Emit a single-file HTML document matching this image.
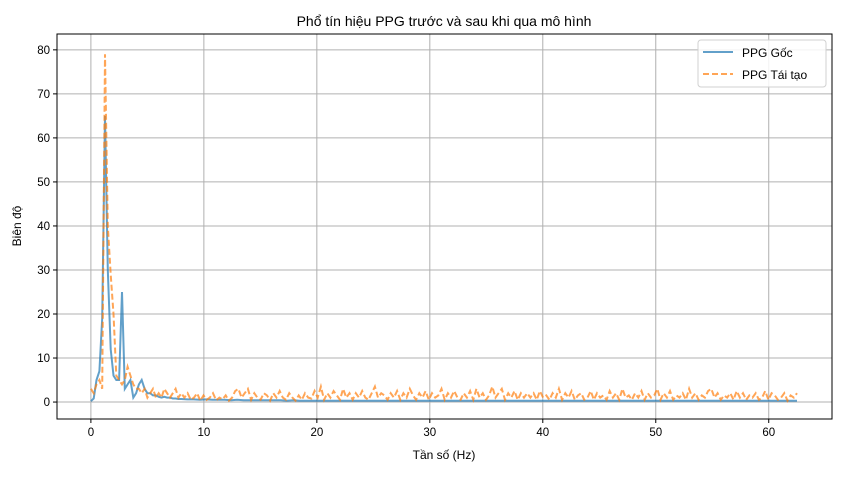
<!DOCTYPE html>
<html><head><meta charset="utf-8"><style>
body{margin:0;background:#fff;}
svg text{font-family:"Liberation Sans","DejaVu Sans",sans-serif;fill:#000;}
</style></head><body>
<svg id="c" width="841" height="472" xmlns="http://www.w3.org/2000/svg"></svg>
<script>
const lowStep = 0.25;
const lowCount = 33;
const lastFreq = 62.5;
const goc = [0.2,0.8,5,7,19,65,30,12,6,5,5,25,3,4,5,1,2,4,5,3,2,2,1.5,1.5,1.2,1.0,1.2,1.0,1.0,0.8,0.8,0.7,0.7,
0.6,0.6,0.5,0.6,0.5,0.5,0.5,0.4,0.5,0.4,0.4,0.4,0.4,0.4,0.4,0.4,0.3,0.4,0.3,0.3,0.3,0.3,0.3,0.3,0.3,0.3,0.3,0.3,0.3,0.3,0.3,0.3,0.3,0.3,0.3,0.3,0.3,0.3,0.3,0.3,0.3,0.3,0.3,0.3,0.3,0.3,0.3,0.3,0.3,0.3,0.3,0.3,0.3,0.3,0.3,0.3,0.3,0.3,0.3,0.3,0.3,0.3,0.3,0.3,0.3,0.3,0.3,0.3,0.3,0.3,0.3,0.3,0.3,0.3,0.3,0.3,0.3,0.3,0.3,0.3,0.3,0.3,0.3,0.3,0.3,0.3,0.3,0.3,0.3,0.3,0.3,0.3,0.3,0.3,0.3,0.3,0.3,0.3,0.3];
const taiTao = [3,2,4,5,3,79,40,29,20,6,5,4,5,8,6,4,3,3,2,3,1,2,3,1,2,1,3,2,1,2,3,1,2,
1,2,0.5,1,2,0.3,1.5,0.5,1,2,0.4,1,0.6,1.5,0.3,1,2.5,3,1,2,3,0.5,2,1,0.5,2,1.5,0.3,2,1,2.5,1,0.5,2,1,0.3,1.5,
0.5,2,1,0.8,2.5,1,3.5,0.5,2,1,2.5,1.5,0.5,3,1,2,0.5,2,1,2.5,1,0.5,2,3.5,1,2,1.5,0.5,2,1,2.5,0.5,2,1,3,1.5,
0.5,2,1,2.5,0.5,2,1,1.5,3,0.5,2,1,2.5,1,0.5,2,1,2.5,0.5,3,1,2,0.5,1.5,3.5,1,2,3,0.5,2,1,2.5,0.5,2,1,2,
1,2,0.5,2.5,1,1.5,0.5,2,1,3,0.5,2,1,2.5,0.5,1.5,2,0.5,1,2.5,0.5,2,1,1.5,0.5,2.5,1,2,0.5,3,1,1.5,0.5,2,
1,2.5,0.5,2,1,1.5,3,0.5,2,1,2.5,0.5,1.5,1,2,0.5,3,1,2,0.5,1.5,1,2.5,3,1,2,0.5,1.5,1,2,0.5,2.5,1,2,
0.5,1.5,1,2,0.5,1,2.5,0.5,2,1.5,0.5,1,2,0.3,1.5,1,2];
const xTicks = [0,10,20,30,40,50,60];
const yTicks = [0,10,20,30,40,50,60,70,80];
function freqsFor(arr){
 const tailStep=(lastFreq-(lowCount-1)*lowStep)/(arr.length-lowCount);
 return arr.map((v,i)=> i<lowCount? i*lowStep : (lowCount-1)*lowStep+(i-lowCount+1)*tailStep);
}
const L=57,R=832,T=34,B=419, xmin=-3.0,xmax=65.6,ymin=-3.85,ymax=83.6;
const X=v=>L+(v-xmin)/(xmax-xmin)*(R-L);
const Y=v=>B-(v-ymin)/(ymax-ymin)*(B-T);
const svg=document.getElementById('c');
const NS='http://www.w3.org/2000/svg';
function mk(tag,a,txt){const e=document.createElementNS(NS,tag);for(const k in a)e.setAttribute(k,a[k]);if(txt!==undefined)e.textContent=txt;svg.appendChild(e);return e;}
xTicks.forEach(t=>{
 const g=mk('line',{x1:X(t),x2:X(t),y1:T,y2:B,stroke:'#b0b0b0','stroke-width':1});
 
 
 mk('line',{x1:X(t),x2:X(t),y1:B,y2:B+4,stroke:'#000'});
 const l=mk('text',{x:X(t),y:B+17,'text-anchor':'middle','font-size':11.5},t);
 
 
});
yTicks.forEach(t=>{
 const g=mk('line',{x1:L,x2:R,y1:Y(t),y2:Y(t),stroke:'#b0b0b0','stroke-width':1});
 
 
 mk('line',{x1:L-4,x2:L,y1:Y(t),y2:Y(t),stroke:'#000'});
 const l=mk('text',{x:L-7,y:Y(t)+4,'text-anchor':'end','font-size':11.5},t);
 
 
});
function pts(arr){const f=freqsFor(arr);return arr.map((v,i)=>X(f[i]).toFixed(1)+','+Y(v).toFixed(1)).join(' ');}
const s1=mk('polyline',{points:pts(goc),fill:'none',stroke:'#1f77b4','stroke-opacity':0.7,'stroke-width':2});


const s2=mk('polyline',{points:pts(taiTao),fill:'none',stroke:'#ff7f0e','stroke-opacity':0.7,'stroke-width':2,'stroke-dasharray':'6,3'});


const fr=mk('rect',{x:L,y:T,width:R-L,height:B-T,fill:'none',stroke:'#000','stroke-width':1});


</script>
<svg width="841" height="472" style="position:absolute;left:0;top:0" xmlns="http://www.w3.org/2000/svg">
<text x="444" y="26" text-anchor="middle" font-size="14">Phổ tín hiệu PPG trước và sau khi qua mô hình</text>
<text x="444" y="459" text-anchor="middle" font-size="12">Tần số (Hz)</text>
<text transform="translate(21,226) rotate(-90)" text-anchor="middle" font-size="12">Biên độ</text>
<g>
<rect x="698" y="40" width="128" height="47" rx="3" fill="#fff" fill-opacity="0.85" stroke="#d0d0d0"/>
<line x1="703" x2="733" y1="52" y2="52" stroke="#1f77b4" stroke-opacity="0.7" stroke-width="2"/>
<text x="742" y="57" font-size="12">PPG Gốc</text>
<line x1="703" x2="733" y1="74" y2="74" stroke="#ff7f0e" stroke-opacity="0.7" stroke-width="2" stroke-dasharray="6,3"/>
<text x="742" y="79" font-size="12">PPG Tái tạo</text>
</g>
</svg>
</body></html>
